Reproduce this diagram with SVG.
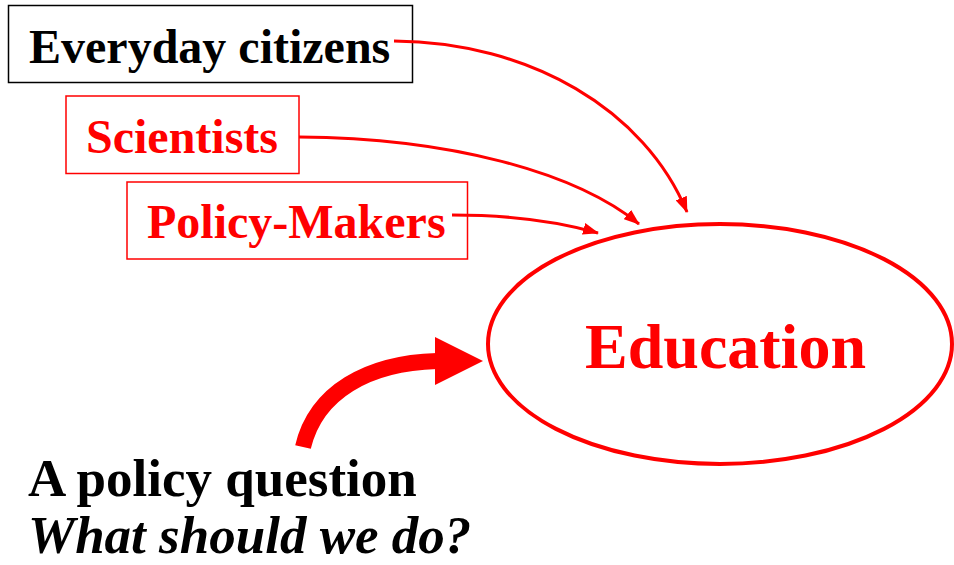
<svg xmlns="http://www.w3.org/2000/svg" width="954" height="565" viewBox="0 0 954 565">
  <style>
    .t { font-family: "Liberation Serif", "Times New Roman", serif; font-weight: bold; }
    .box { fill: #ffffff; stroke-width: 1.5; }
    .conn { fill: none; stroke: #ff0000; stroke-width: 3; }
  </style>
  <defs>
    <marker id="ah" viewBox="0 0 16 12" markerWidth="16" markerHeight="12" refX="15" refY="6" orient="auto" markerUnits="userSpaceOnUse">
      <path d="M0,0 L16,6 L0,12 z" fill="#ff0000"/>
    </marker>
  </defs>
  <rect width="954" height="565" fill="#ffffff"/>

  <g id="node-citizens">
    <rect class="box" x="8.5" y="5.5" width="404" height="77" stroke="#000000"/>
    <text class="t" x="29" y="63" font-size="48" fill="#000000">Everyday citizens</text>
  </g>
  <g id="node-scientists">
    <rect class="box" x="66" y="96" width="233" height="77.5" stroke="#ff0000"/>
    <text class="t" x="86" y="153" font-size="48" fill="#ff0000">Scientists</text>
  </g>
  <g id="node-policymakers">
    <rect class="box" x="127" y="182" width="340.5" height="77" stroke="#ff0000"/>
    <text class="t" x="147" y="238" font-size="48" fill="#ff0000">Policy-Makers</text>
  </g>
  <g id="node-education">
    <ellipse cx="720" cy="344" rx="232" ry="120" fill="none" stroke="#ff0000" stroke-width="4"/>
    <text class="t" x="585" y="368" font-size="64" fill="#ff0000">Education</text>
  </g>
  <g id="node-question">
    <text class="t" x="28" y="496" font-size="53" fill="#000000">A policy question</text>
    <text class="t" x="28" y="553" font-size="53" font-style="italic" fill="#000000">What should we do?</text>
  </g>

  <g id="connectors">
    <path class="conn" d="M394,41 C530,42 645,110 687,212" marker-end="url(#ah)"/>
    <path class="conn" d="M299,137 C450,138 575,172 639,224" marker-end="url(#ah)"/>
    <path class="conn" d="M452,215 C510,215 560,222 598,233" marker-end="url(#ah)"/>
    <path d="M303,447 C316,392 368,363 437,361" fill="none" stroke="#ff0000" stroke-width="16"/>
    <polygon points="435,337 483,361 435,385" fill="#ff0000"/>
  </g>
</svg>
